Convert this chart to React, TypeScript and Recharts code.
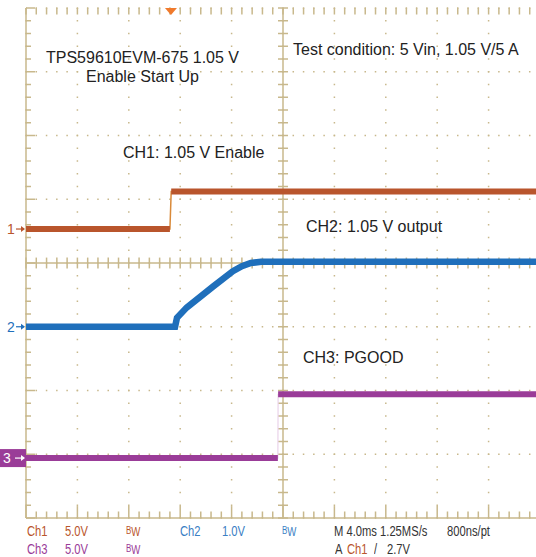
import { LineChart, Line, XAxis, YAxis, CartesianGrid, ReferenceLine, ReferenceDot } from 'recharts';

// time in ms (4 ms/div, 10 div), volts per channel
const ch1Time = [0, 11.2, 11.3, 40];
const ch1Volt = [0, 0, 2.94, 2.94];
const ch2Time = [0, 11.6, 11.75, 12.5, 14.55, 16.1, 16.8, 17.5, 18.3, 40];
const ch2Volt = [0, 0, 0.14, 0.3, 0.63, 0.87, 0.95, 1.0, 1.02, 1.02];
const ch3Time = [0, 19.6, 19.62, 40];
const ch3Volt = [0, 0, 5, 5];

// volts/div and ground offset (div) of each channel
const ch1Scale = 5;
const ch1Offset = 0.533;
const ch2Scale = 1;
const ch2Offset = -1.0;
const ch3Scale = 5;
const ch3Offset = -3.06;
const triggerTime = 11.28;

const xMajor = [0, 4, 8, 12, 16, 20, 24, 28, 32, 36, 40];
const xMinor = Array.from({ length: 51 }, (_, i) => +(i * 0.8).toFixed(2));
const yMajor = [-4, -3, -2, -1, 0, 1, 2, 3, 4];
const yMinor = Array.from({ length: 41 }, (_, i) => +(-4 + i * 0.2).toFixed(2));

const C1 = '#b9552c';
const C2 = '#1f6fbb';
const C3 = '#9a3c98';
const C2TXT = '#3a80c4';
const TAN = '#c8b88c';

type Pt = { t: number; y: number | null };

function toTrace(times: number[], volts: number[], scale: number, offset: number): Pt[] {
  return times.map((t, i) => ({ t, y: volts[i] / scale + offset }));
}

// break the line at the edge so the thick trace leaves the fast step thin
function withGap(pts: Pt[], at: number): Pt[] {
  const mid = (pts[at].t + pts[at + 1].t) / 2;
  return [...pts.slice(0, at + 1), { t: mid, y: null }, ...pts.slice(at + 1)];
}

const ch1 = toTrace(ch1Time, ch1Volt, ch1Scale, ch1Offset);
const ch2 = toTrace(ch2Time, ch2Volt, ch2Scale, ch2Offset);
const ch3 = toTrace(ch3Time, ch3Volt, ch3Scale, ch3Offset);

const groundMarks = [
  { label: '1', y: ch1Offset, color: C1, boxed: false },
  { label: '2', y: ch2Offset, color: C2, boxed: false },
  { label: '3', y: ch3Offset, color: C3, boxed: true },
];

function GroundMark(props: any) {
  const { cx, cy, label, color, boxed } = props;
  if (boxed) {
    return (
      <g>
        <rect x={cx - 26} y={cy - 9} width={26} height={18} fill={color} />
        <text x={cx - 19} y={cy + 5} fill="#fff" fontSize={14} fontFamily="Liberation Sans, Arial, sans-serif" textAnchor="middle">{label}</text>
        <line x1={cx - 11} y1={cy} x2={cx - 2} y2={cy} stroke="#fff" strokeWidth={1.2} />
        <polygon points={`${cx - 1},${cy} ${cx - 5},${cy - 3} ${cx - 5},${cy + 3}`} fill="#fff" />
      </g>
    );
  }
  return (
    <g>
      <text x={cx - 15} y={cy + 5} fill={color} fontSize={14} fontFamily="Liberation Sans, Arial, sans-serif" textAnchor="middle">{label}</text>
      <line x1={cx - 10} y1={cy} x2={cx - 2} y2={cy} stroke={color} strokeWidth={1.2} />
      <polygon points={`${cx - 1},${cy} ${cx - 5},${cy - 3} ${cx - 5},${cy + 3}`} fill={color} />
    </g>
  );
}

function TriggerMark(props: any) {
  const { cx, cy } = props;
  return <polygon points={`${cx - 6},${cy} ${cx + 6},${cy} ${cx},${cy + 7}`} fill="#f07a2c" />;
}

const note: React.CSSProperties = {
  position: 'absolute',
  fontFamily: 'Liberation Sans, Arial, sans-serif',
  fontSize: 16,
  lineHeight: '18px',
  color: '#222',
  whiteSpace: 'nowrap',
};

const status: React.CSSProperties = {
  position: 'absolute',
  fontFamily: '"Liberation Sans", Arial, sans-serif',
  fontSize: 14,
  lineHeight: '15px',
  whiteSpace: 'nowrap',
  transform: 'scaleX(0.8)',
  transformOrigin: 'left center',
};

function Bw({ color }: { color: string }) {
  return (
    <span style={{ color }}>
      <span style={{ fontSize: 10, position: 'relative', top: -2 }}>B</span>
      <span style={{ fontSize: 12 }}>W</span>
    </span>
  );
}

export default function App() {
  const tickX = 0.39; // ms, ~5px
  const tickY = 0.085; // div, ~5px
  return (
    <div style={{ position: 'absolute', left: 0, top: 0, width: 536, height: 557, overflow: 'hidden', background: '#fff' }}>
      <LineChart width={540} height={557} margin={{ top: 8, right: 0, left: 26, bottom: 39 }}>
        <XAxis dataKey="t" type="number" domain={[0, 40]} ticks={xMajor} hide allowDataOverflow />
        <YAxis type="number" domain={[-4, 4]} ticks={yMajor} hide allowDataOverflow />
        <CartesianGrid vertical={false} stroke={TAN} strokeWidth={1.5} strokeDasharray="1.5 8.78" strokeDashoffset={0.75} />
        <CartesianGrid horizontal={false} stroke={TAN} strokeWidth={1.5} strokeDasharray="1.5 11.25" strokeDashoffset={0.75} />

        {/* frame and centre cross */}
        <ReferenceLine x={0} stroke={TAN} strokeWidth={1.5} ifOverflow="visible" />
        <ReferenceLine y={-4} stroke={TAN} strokeWidth={1.5} ifOverflow="visible" />
        <ReferenceLine x={20} stroke={TAN} strokeWidth={1.5} ifOverflow="visible" />
        <ReferenceLine y={0} stroke={TAN} strokeWidth={1.5} ifOverflow="visible" />

        {xMinor.map((t, i) => (
          <ReferenceLine key={`tt${i}`} segment={[{ x: t, y: 4 }, { x: t, y: 4 - tickY * 1.2 }]} stroke={TAN} strokeWidth={1.5} ifOverflow="visible" />
        ))}
        {xMinor.map((t, i) => (
          <ReferenceLine key={`bt${i}`} segment={[{ x: t, y: -4 }, { x: t, y: -4 + (i % 5 === 0 ? tickY * 2.2 : tickY * 1.2) }]} stroke={TAN} strokeWidth={1.5} ifOverflow="visible" />
        ))}
        {xMinor.map((t, i) => (
          <ReferenceLine key={`ct${i}`} segment={[{ x: t, y: -tickY }, { x: t, y: tickY }]} stroke={TAN} strokeWidth={1.5} ifOverflow="visible" />
        ))}
        {yMinor.map((v, i) => (
          <ReferenceLine key={`lt${i}`} segment={[{ x: 0, y: v }, { x: i % 5 === 0 ? tickX * 1.8 : tickX, y: v }]} stroke={TAN} strokeWidth={1.5} ifOverflow="visible" />
        ))}
        {yMinor.map((v, i) => (
          <ReferenceLine key={`cy${i}`} segment={[{ x: 20 - tickX, y: v }, { x: 20 + tickX, y: v }]} stroke={TAN} strokeWidth={1.5} ifOverflow="visible" />
        ))}

        {/* traces */}
        <Line data={ch1} dataKey="y" type="linear" stroke="#d98a3a" strokeWidth={1.5} dot={false} isAnimationActive={false} />
        <Line data={withGap(ch1, 1)} dataKey="y" type="linear" stroke={C1} strokeWidth={6} dot={false} isAnimationActive={false} />
        <Line data={ch2} dataKey="y" type="linear" stroke={C2} strokeWidth={6.5} dot={false} isAnimationActive={false} />
        <Line data={ch3} dataKey="y" type="linear" stroke="#ead3ea" strokeWidth={1.2} dot={false} isAnimationActive={false} />
        <Line data={withGap(ch3, 1)} dataKey="y" type="linear" stroke={C3} strokeWidth={6} dot={false} isAnimationActive={false} />

        {groundMarks.map((m) => (
          <ReferenceDot key={m.label} x={0} y={m.y} r={0} ifOverflow="visible" shape={(p: any) => <GroundMark {...p} label={m.label} color={m.color} boxed={m.boxed} />} />
        ))}
        <ReferenceDot x={triggerTime} y={4} r={0} ifOverflow="visible" shape={(p: any) => <TriggerMark {...p} />} />
      </LineChart>

      <div style={{ ...note, left: 46, top: 49 }}>TPS59610EVM-675 1.05 V</div>
      <div style={{ ...note, left: 86, top: 68 }}>Enable Start Up</div>
      <div style={{ ...note, left: 293, top: 41 }}>Test condition: 5 Vin, 1.05 V/5 A</div>
      <div style={{ ...note, left: 123, top: 144 }}>CH1: 1.05 V Enable</div>
      <div style={{ ...note, left: 306, top: 218 }}>CH2: 1.05 V output</div>
      <div style={{ ...note, left: 303, top: 349 }}>CH3: PGOOD</div>

      <div style={{ ...status, left: 27, top: 524, color: C1 }}>Ch1</div>
      <div style={{ ...status, left: 65, top: 524, color: C1 }}>5.0V</div>
      <div style={{ ...status, left: 126, top: 524 }}><Bw color={C1} /></div>
      <div style={{ ...status, left: 180, top: 524, color: C2TXT }}>Ch2</div>
      <div style={{ ...status, left: 222, top: 524, color: C2TXT }}>1.0V</div>
      <div style={{ ...status, left: 282, top: 524 }}><Bw color={C2TXT} /></div>
      <div style={{ ...status, left: 334, top: 524, color: '#333' }}>M 4.0ms 1.25MS/s</div>
      <div style={{ ...status, left: 447, top: 524, color: '#333' }}>800ns/pt</div>

      <div style={{ ...status, left: 27, top: 542, color: C3 }}>Ch3</div>
      <div style={{ ...status, left: 65, top: 542, color: C3 }}>5.0V</div>
      <div style={{ ...status, left: 126, top: 542 }}><Bw color={C3} /></div>
      <div style={{ ...status, left: 335, top: 542, color: '#333' }}>A</div>
      <div style={{ ...status, left: 347, top: 542, color: C1 }}>Ch1</div>
      <div style={{ ...status, left: 374, top: 542, color: '#333' }}>/</div>
      <div style={{ ...status, left: 387, top: 542, color: '#333' }}>2.7V</div>
    </div>
  );
}
